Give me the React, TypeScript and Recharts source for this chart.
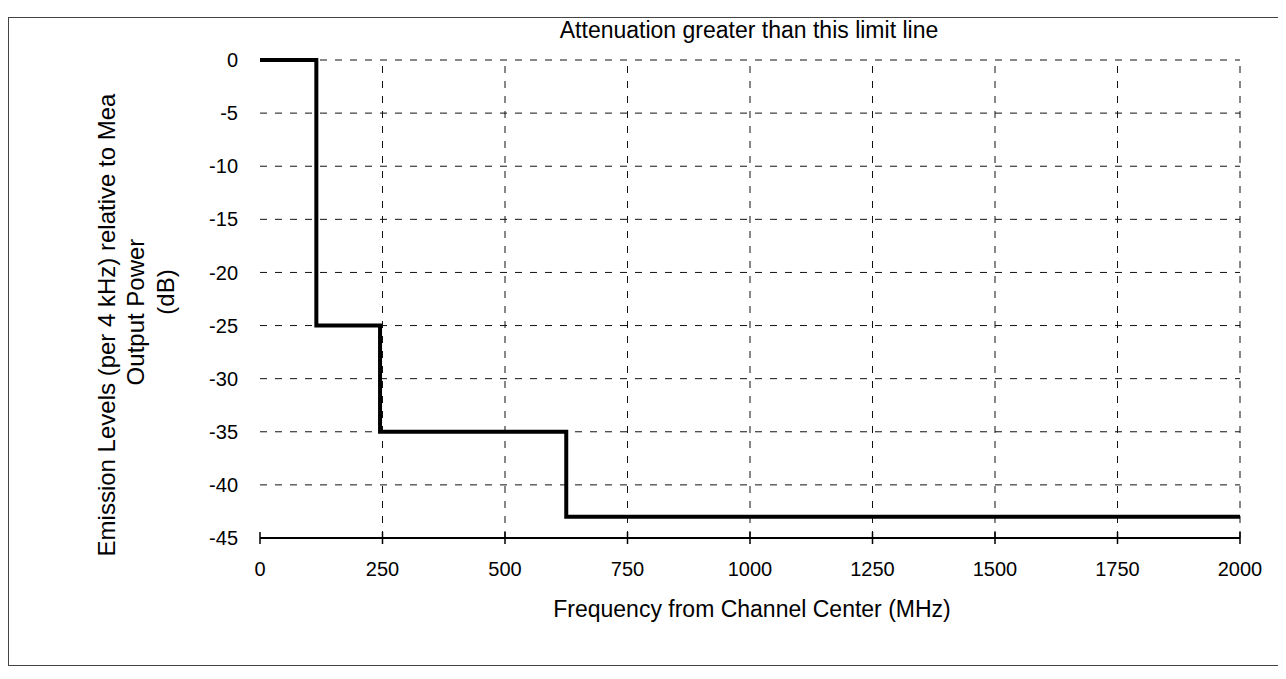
import { LineChart, Line, XAxis, YAxis, ReferenceLine } from 'recharts';

// emission limit mask (step function)
const freqs = [0, 115, 245, 625, 2000];
const limits = [0, -25, -35, -43, -43];

const xTicks = [0, 250, 500, 750, 1000, 1250, 1500, 1750, 2000];
const yTicks = [0, -5, -10, -15, -20, -25, -30, -35, -40, -45];
const gridX = xTicks.slice(1);
const gridY = yTicks.slice(0, -1);

const title = 'Attenuation greater than this limit line';
const xTitle = 'Frequency from Channel Center (MHz)';
const yTitle = ['Emission Levels (per 4 kHz) relative to Mea', 'Output Power', '(dB)'];

const data = freqs.map((f, i) => ({ freq: f, limit: limits[i] }));

const font = '"Liberation Sans", Arial, sans-serif';

function XTick({ x, y, payload }: any) {
  const axisY = y - 24;
  return (
    <g>
      <line x1={x} x2={x} y1={axisY - 6} y2={axisY + 6} stroke="#000" strokeWidth={1.5} />
      <text x={x} y={y} dy="0.71em" textAnchor="middle" fontSize={20} fill="#000" fontFamily={font}>
        {payload.value}
      </text>
    </g>
  );
}

const textBase: React.CSSProperties = {
  position: 'absolute',
  fontFamily: font,
  fontSize: 23,
  lineHeight: 1,
  whiteSpace: 'nowrap',
  color: '#000',
};

// y title line centres (container coords)
const yTitlePos = [
  { x: 99, y: 317 },
  { x: 128, y: 304 },
  { x: 158, y: 284 },
];

export default function App() {
  return (
    <div style={{ position: 'relative', width: 1274, height: 662, background: '#fff' }}>
      <div
        style={{
          position: 'absolute',
          left: 0,
          top: 9,
          width: 1272,
          height: 647,
          border: '1px solid #444',
        }}
      />
      <div style={{ ...textBase, left: 741, top: 22, transform: 'translate(-50%, -50%)' }}>{title}</div>
      <div style={{ ...textBase, left: 744, top: 601, transform: 'translate(-50%, -50%)' }}>{xTitle}</div>
      {yTitle.map((t, i) => (
        <div
          key={i}
          style={{
            ...textBase,
            fontSize: 24,
            left: yTitlePos[i].x,
            top: yTitlePos[i].y,
            transform: 'translate(-50%, -50%) rotate(-90deg)',
          }}
        >
          {t}
        </div>
      ))}
      <LineChart
        width={1274}
        height={662}
        data={data}
        margin={{ top: 52, right: 42, bottom: 72, left: 172 }}
        style={{ position: 'absolute', left: 0, top: 0 }}
      >
        <XAxis
          type="number"
          dataKey="freq"
          domain={[0, 2000]}
          ticks={xTicks}
          interval={0}
          tickSize={6}
          tickMargin={18}
          tickLine={false}
          axisLine={{ stroke: '#000', strokeWidth: 2 }}
          tick={<XTick />}
          height={60}
        />
        <YAxis
          type="number"
          domain={[-45, 0]}
          ticks={yTicks}
          interval={0}
          axisLine={false}
          tickLine={false}
          tickSize={6}
          tickMargin={16}
          tick={{ fontSize: 20, fill: '#000', fontFamily: font }}
          width={80}
        />
        {gridY.map(v => (
          <ReferenceLine key={'y' + v} y={v} stroke="#111" strokeWidth={1} strokeDasharray="7 8" />
        ))}
        {gridX.map(v => (
          <ReferenceLine key={'x' + v} x={v} stroke="#111" strokeWidth={1} strokeDasharray="7 8" />
        ))}
        <Line
          type="stepAfter"
          dataKey="limit"
          stroke="#000"
          strokeWidth={4}
          dot={false}
          isAnimationActive={false}
        />
      </LineChart>
    </div>
  );
}
